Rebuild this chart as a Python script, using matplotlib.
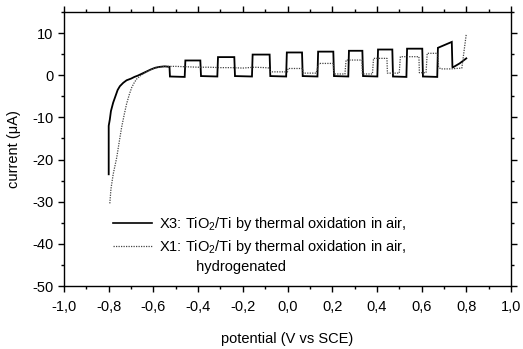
import matplotlib
matplotlib.use("Agg")
import matplotlib.pyplot as plt
from matplotlib.ticker import MultipleLocator, FuncFormatter
from matplotlib.lines import Line2D

plt.rcParams['font.family'] = ['Liberation Sans', 'DejaVu Sans']
plt.rcParams['mathtext.default'] = 'regular'

# X3: TiO2/Ti by thermal oxidation in air (solid)
x3_potential = [-0.800, -0.800, -0.795, -0.790, -0.780, -0.770, -0.760, -0.750, -0.735, -0.720,
                -0.700, -0.685, -0.670, -0.650, -0.630, -0.610, -0.590, -0.570, -0.550, -0.528,
                -0.526, -0.460, -0.457, -0.390, -0.387, -0.314, -0.311, -0.238, -0.235, -0.159,
                -0.156, -0.080, -0.077, -0.006, -0.003, 0.065, 0.068, 0.134, 0.137, 0.205,
                0.208, 0.272, 0.275, 0.335, 0.338, 0.402, 0.405, 0.469, 0.472, 0.532,
                0.535, 0.603, 0.606, 0.670, 0.673, 0.735, 0.738, 0.770, 0.800]
x3_current = [-23.5, -12.0, -10.5, -8.5, -6.5, -5.0, -3.5, -2.6, -1.8, -1.2,
              -0.8, -0.4, -0.1, 0.4, 0.9, 1.4, 1.8, 2.0, 2.1, 2.0,
              -0.3, -0.4, 3.5, 3.5, -0.2, -0.3, 4.3, 4.3, -0.2, -0.3,
              4.9, 4.9, -0.2, -0.3, 5.4, 5.4, -0.2, -0.3, 5.6, 5.6,
              -0.2, -0.3, 5.8, 5.8, -0.2, -0.3, 6.1, 6.1, -0.3, -0.4,
              6.3, 6.3, -0.3, -0.4, 6.5, 7.9, 1.8, 2.8, 4.0]

# X1: hydrogenated (dotted)
x1_potential = [-0.795, -0.790, -0.780, -0.764, -0.752, -0.742, -0.730, -0.720, -0.708, -0.697,
                -0.685, -0.675, -0.660, -0.640, -0.620, -0.600, -0.580, -0.550, -0.500, -0.450,
                -0.400, -0.350, -0.300, -0.250, -0.200, -0.150, -0.100, -0.080, -0.078, 0.000,
                0.002, 0.068, 0.070, 0.128, 0.140, 0.205, 0.207, 0.257, 0.262, 0.333,
                0.335, 0.380, 0.385, 0.445, 0.447, 0.500, 0.505, 0.588, 0.590, 0.620,
                0.625, 0.673, 0.676, 0.685, 0.730, 0.780, 0.800]
x1_current = [-30.4, -27.0, -23.5, -19.5, -15.5, -12.3, -9.2, -6.8, -4.6, -2.9,
              -1.7, -0.9, -0.2, 0.5, 1.1, 1.6, 1.9, 2.1, 2.1, 2.0,
              1.9, 1.9, 1.8, 1.8, 1.7, 1.9, 1.8, 1.7, 0.8, 0.8,
              1.6, 1.6, 0.5, 0.5, 2.8, 2.8, 0.3, 0.3, 3.6, 3.6,
              0.3, 0.3, 4.0, 4.0, 0.5, 0.5, 4.4, 4.4, 0.6, 0.6,
              5.2, 5.2, 2.0, 1.5, 1.5, 1.7, 9.8]

x_ticks = [-1.0, -0.8, -0.6, -0.4, -0.2, 0.0, 0.2, 0.4, 0.6, 0.8, 1.0]
y_ticks = [-50, -40, -30, -20, -10, 0, 10]

FS = 10.5

fig = plt.figure(figsize=(5.23, 3.49), dpi=100)
ax = fig.add_axes([64/523, 1-286/349, 447/523, 274/349])

ax.plot(x3_potential, x3_current, color='black', lw=1.3, solid_joinstyle='miter')
ax.plot(x1_potential, x1_current, color='#444444', lw=0.9, linestyle=(0, (1, 1)))

ax.set_xlim(-1.0, 1.0)
ax.set_ylim(-50, 15)
ax.set_xticks(x_ticks)
ax.set_yticks(y_ticks)
ax.xaxis.set_minor_locator(MultipleLocator(0.1))
ax.yaxis.set_minor_locator(MultipleLocator(5))
ax.xaxis.set_major_formatter(FuncFormatter(lambda v, p: f"{v:.1f}".replace('.', ',').replace('-0,0', '0,0')))
ax.yaxis.set_major_formatter(FuncFormatter(lambda v, p: f"{int(round(v))}"))

ax.tick_params(which='both', direction='out', top=True, right=True, labeltop=False, labelright=False,
               width=1.0, labelsize=FS, colors='black')
ax.tick_params(which='major', length=4.5, pad=3)
ax.tick_params(axis='x', which='major', pad=5.5)
ax.tick_params(which='minor', length=2.5)
for s in ax.spines.values():
    s.set_linewidth(1.0)

ax.set_xlabel('potential (V vs SCE)', fontsize=FS, labelpad=13)
ax.set_ylabel('current (μA)', fontsize=FS, labelpad=8)

handles = [Line2D([], [], color='black', lw=1.2),
           Line2D([], [], color='#444444', lw=0.9, linestyle=(0, (1, 1))),
           Line2D([], [], linestyle='none')]
labels = ['X3: TiO$_2$/Ti by thermal oxidation in air,',
          'X1: TiO$_2$/Ti by thermal oxidation in air,',
          '         hydrogenated']
leg = ax.legend(handles, labels, loc='upper left', bbox_to_anchor=(0.1096, 0.258),
                frameon=False, fontsize=FS, handlelength=2.7, handletextpad=0.45,
                borderpad=0, borderaxespad=0, labelspacing=0.3)

fig.savefig('out.png', dpi=100)
